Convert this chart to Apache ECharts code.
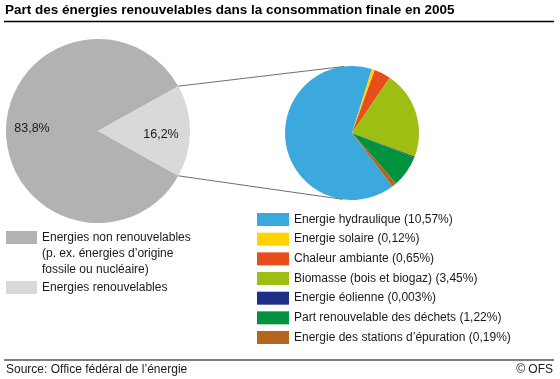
<!DOCTYPE html>
<html><head><meta charset="utf-8">
<script src="https://cdn.jsdelivr.net/npm/echarts@6/dist/echarts.min.js"></script>
<style>html,body{margin:0;padding:0;background:#fff}#c{width:560px;height:379px}</style>
</head><body><div id="c"></div>
<script>
// ---- data ----
const titleText = 'Part des énergies renouvelables dans la consommation finale en 2005';
const sourceText = 'Source: Office fédéral de l\u2019énergie';
const creditText = '© OFS';

const mainNames = ['Energies non renouvelables', 'Energies renouvelables'];
const mainNote = ['(p. ex. énergies d\u2019origine', 'fossile ou nucléaire)'];
const mainValues = [83.8, 16.2];
const mainLabels = ['83,8%', '16,2%'];

const renNames = ['Energie hydraulique', 'Energie solaire', 'Chaleur ambiante', 'Biomasse (bois et biogaz)', 'Energie éolienne', 'Part renouvelable des déchets', 'Energie des stations d\u2019épuration'];
const renValues = [10.57, 0.12, 0.65, 3.45, 0.003, 1.22, 0.19];
const renLabels = ['10,57%', '0,12%', '0,65%', '3,45%', '0,003%', '1,22%', '0,19%'];

// ---- styles ----
const FONT = "'Liberation Sans', Arial, sans-serif";
const TXT = '#1a1a1a';
const mainColors = ['#b2b2b2', '#d9d9d9'];
const renColors = ['#3ba9dd', '#ffd400', '#e84e1b', '#9cbf12', '#1d2f87', '#00923f', '#b5651d'];

const chart = echarts.init(document.getElementById('c'), null, {renderer: 'canvas'});

const half = 180 * mainValues[1] / (mainValues[0] + mainValues[1]);

const option = {
  animation: false,
  title: {
    text: titleText, left: 5, top: 3, padding: 0,
    textStyle: {fontFamily: FONT, fontSize: 13.5, fontWeight: 'bold', color: '#000'}
  },
  legend: [
    {
      orient: 'vertical', left: 6, top: 231, padding: 0,
      itemWidth: 31, itemHeight: 13, icon: 'rect', selectedMode: false,
      data: [mainNames[0]],
      textStyle: {fontFamily: FONT, fontSize: 12, lineHeight: 13, color: TXT}
    },
    {
      orient: 'vertical', left: 6, top: 281, padding: 0,
      itemWidth: 31, itemHeight: 13, icon: 'rect', selectedMode: false,
      data: [mainNames[1]],
      textStyle: {fontFamily: FONT, fontSize: 12, lineHeight: 13, color: TXT}
    },
    {
      orient: 'vertical', left: 257, top: 213, padding: 0, itemGap: 6.67,
      itemWidth: 32, itemHeight: 13, icon: 'rect', selectedMode: false,
      data: renNames,
      formatter: n => n + ' (' + renLabels[renNames.indexOf(n)] + ')',
      textStyle: {fontFamily: FONT, fontSize: 12, lineHeight: 13, color: TXT}
    }
  ],
  series: [
    {
      type: 'pie', center: [98, 131], radius: 92, startAngle: 360 - half, clockwise: true,
      silent: true, legendHoverLink: false,
      data: mainNames.map((n, i) => ({
        name: n, value: mainValues[i],
        itemStyle: {color: mainColors[i]},
        label: {offset: i === 0 ? [-17, -2] : [14, 4]}
      })),
      label: {
        show: true, position: 'inside',
        formatter: p => mainLabels[p.dataIndex],
        fontFamily: FONT, fontSize: 12.5, color: TXT
      },
      labelLine: {show: false},
      emphasis: {disabled: true}
    },
    {
      type: 'pie', center: [352, 133], radius: 67, startAngle: 307, clockwise: true,
      minAngle: 1, silent: true, legendHoverLink: false,
      data: renNames.map((n, i) => ({name: n, value: renValues[i], itemStyle: {color: renColors[i]}})),
      label: {show: false}, labelLine: {show: false},
      emphasis: {disabled: true}
    }
  ]
};
chart.setOption(option);

// connecting tangent lines from the renewable slice edges to the detail pie
const L = chart.getModel().getSeriesByIndex(0).getData().getItemLayout(1);
const smallL = chart.getModel().getSeriesByIndex(1).getData().getItemLayout(0);
const pts = [L.startAngle, L.endAngle].map(a => [L.cx + L.r * Math.cos(a), L.cy + L.r * Math.sin(a)]);
pts.sort((a, b) => a[1] - b[1]);
function tangent(P, sign) {
  const dx = smallL.cx - P[0], dy = smallL.cy - P[1];
  const d = Math.hypot(dx, dy);
  const beta = Math.atan2(dy, dx);
  const alpha = Math.asin(smallL.r / d);
  const len = Math.sqrt(d * d - smallL.r * smallL.r);
  const th = beta + sign * alpha;
  return [P[0] + len * Math.cos(th), P[1] + len * Math.sin(th)];
}
const T1 = tangent(pts[0], -1), T2 = tangent(pts[1], 1);

chart.setOption({
  graphic: [
    {type: 'line', shape: {x1: 4, y1: 21.5, x2: 554, y2: 21.5}, style: {stroke: '#000', lineWidth: 1.5}},
    {type: 'line', shape: {x1: 4, y1: 360, x2: 554, y2: 360}, style: {stroke: '#000', lineWidth: 1.2}},
    {type: 'line', shape: {x1: pts[0][0], y1: pts[0][1], x2: T1[0], y2: T1[1]}, style: {stroke: '#6e6e6e', lineWidth: 1}, z: 10},
    {type: 'line', shape: {x1: pts[1][0], y1: pts[1][1], x2: T2[0], y2: T2[1]}, style: {stroke: '#6e6e6e', lineWidth: 1}, z: 10},
    {type: 'text', left: 42, top: 246, style: {text: mainNote.join('\n'), font: '12px ' + FONT, lineHeight: 15.5, fill: TXT}},
    {type: 'text', left: 6, top: 364, style: {text: sourceText, font: '12px ' + FONT, fill: TXT}},
    {type: 'text', right: 7, top: 364, style: {text: creditText, font: '12px ' + FONT, fill: TXT}}
  ]
});
</script></body></html>
